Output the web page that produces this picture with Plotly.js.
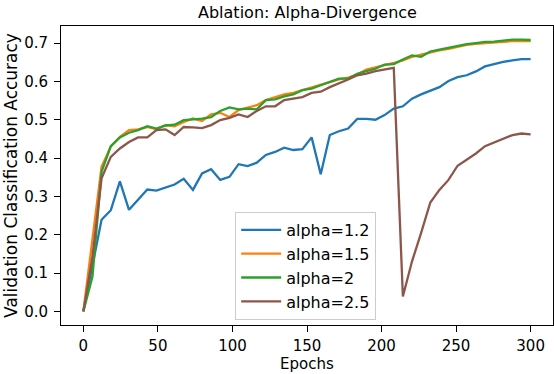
<!DOCTYPE html>
<html>
<head>
<meta charset="utf-8">
<script src="https://cdn.plot.ly/plotly-3.0.1.min.js"></script>
<style>
  html, body { margin: 0; padding: 0; background: #fff; }
  #plot { width: 554px; height: 374px; }
</style>
</head>
<body>
<div id="plot"></div>
<script>
// evaluation points (50 evenly spaced epochs between 0 and 300)
let epochs = [0, 6.1, 12.2, 18.4, 24.5, 30.6, 36.7, 42.9, 49.0, 55.1,
    61.2, 67.3, 73.5, 79.6, 85.7, 91.8, 98.0, 104.1, 110.2, 116.3,
    122.4, 128.6, 134.7, 140.8, 146.9, 153.1, 159.2, 165.3, 171.4, 177.6,
    183.7, 189.8, 195.9, 202.0, 208.2, 214.3, 220.4, 226.5, 232.7, 238.8,
    244.9, 251.0, 257.1, 263.3, 269.4, 275.5, 281.6, 287.8, 293.9, 300];

let acc12 = [0, 0.116, 0.239, 0.264, 0.339, 0.265, 0.29, 0.318, 0.315, 0.322,
    0.331, 0.346, 0.317, 0.36, 0.371, 0.343, 0.351, 0.384, 0.379, 0.388,
    0.408, 0.416, 0.427, 0.421, 0.423, 0.454, 0.358, 0.46, 0.47, 0.477,
    0.502, 0.502, 0.50, 0.512, 0.529, 0.535, 0.555, 0.566, 0.575, 0.585,
    0.601, 0.611, 0.616, 0.626, 0.639, 0.646, 0.651, 0.655, 0.658, 0.658];

let acc15 = [0, 0.187, 0.377, 0.43, 0.455, 0.473, 0.475, 0.481, 0.475, 0.486,
    0.483, 0.494, 0.503, 0.497, 0.514, 0.518, 0.507, 0.525, 0.532, 0.538,
    0.551, 0.558, 0.566, 0.57, 0.577, 0.585, 0.59, 0.598, 0.605, 0.61,
    0.618, 0.631, 0.636, 0.642, 0.648, 0.655, 0.664, 0.67, 0.676, 0.681,
    0.685, 0.69, 0.695, 0.698, 0.70, 0.702, 0.704, 0.705, 0.705, 0.705];

let acc2 = [0, 0.091, 0.364, 0.431, 0.454, 0.466, 0.473, 0.483, 0.477, 0.485,
    0.487, 0.499, 0.501, 0.503, 0.507, 0.523, 0.532, 0.527, 0.529, 0.527,
    0.551, 0.553, 0.561, 0.566, 0.577, 0.581, 0.59, 0.598, 0.607, 0.607,
    0.62, 0.627, 0.633, 0.644, 0.645, 0.657, 0.668, 0.664, 0.678, 0.683,
    0.688, 0.691, 0.697, 0.70, 0.703, 0.704, 0.707, 0.709, 0.709, 0.708];

let acc25 = [0, 0.143, 0.347, 0.403, 0.425, 0.442, 0.454, 0.454, 0.473, 0.475,
    0.46, 0.481, 0.48, 0.478, 0.486, 0.499, 0.505, 0.514, 0.507, 0.523,
    0.535, 0.535, 0.551, 0.555, 0.559, 0.57, 0.573, 0.585, 0.594, 0.605,
    0.616, 0.62, 0.627, 0.631, 0.635, 0.039, 0.13, 0.204, 0.284, 0.317,
    0.343, 0.38, 0.395, 0.412, 0.431, 0.44, 0.451, 0.46, 0.464, 0.462];

let names = ["alpha=1.2", "alpha=1.5", "alpha=2", "alpha=2.5"];
let colors = ["#1f77b4", "#ff7f0e", "#2ca02c", "#8c564b"];
let series = [acc12, acc15, acc2, acc25];

let traces = series.map((ys, i) => ({
    x: epochs,
    y: ys,
    mode: 'lines',
    name: names[i],
    legendgroup: 'g' + i,
    line: { color: colors[i], width: 2.3 }
}));

let axisStyle = {
    showline: true,
    linecolor: '#000',
    linewidth: 1,
    mirror: true,
    showgrid: false,
    zeroline: false,
    ticks: 'outside',
    ticklen: 6,
    tickwidth: 1,
    tickcolor: '#000',
    ticklabelstandoff: 3,
    tickfont: { size: 15, color: '#000' }
};

let layout = {
    width: 554,
    height: 374,
    margin: { l: 61, r: 1, t: 26, b: 49 },
    paper_bgcolor: '#fff',
    plot_bgcolor: '#fff',
    font: { family: 'DejaVu Sans, sans-serif', color: '#000' },
    title: {
        text: 'Ablation: Alpha-Divergence',
        font: { size: 16, color: '#000' },
        x: 0.555, xanchor: 'center',
        y: 0.968, yanchor: 'middle'
    },
    xaxis: Object.assign({}, axisStyle, {
        range: [-15, 315],
        ticklabelstandoff: 1,
        tickvals: [0, 50, 100, 150, 200, 250, 300]
    }),
    yaxis: Object.assign({}, axisStyle, {
        range: [-0.0355, 0.7445],
        tickvals: [0, 0.1, 0.2, 0.3, 0.4, 0.5, 0.6, 0.7],
        tickformat: '.1f',
        title: { text: 'Validation Classification Accuracy', font: { size: 17 }, standoff: 2 }
    }),
    // x axis title sits lower than plotly's margin allows, so use an annotation
    annotations: [{
        text: 'Epochs',
        xref: 'paper', yref: 'paper',
        x: 0.5, y: -0.1304,
        xanchor: 'center', yanchor: 'middle',
        showarrow: false,
        font: { size: 15, color: '#000' }
    }],
    showlegend: true,
    legend: {
        x: 0.354, y: 0.378, xanchor: 'left', yanchor: 'top',
        bgcolor: 'rgba(255,255,255,0.8)',
        bordercolor: '#cccccc',
        borderwidth: 1,
        font: { size: 16, color: '#000' },
        itemwidth: 40,
        tracegroupgap: 0
    }
};

Plotly.newPlot("plot", traces, layout, { staticPlot: true });
</script>
</body>
</html>
